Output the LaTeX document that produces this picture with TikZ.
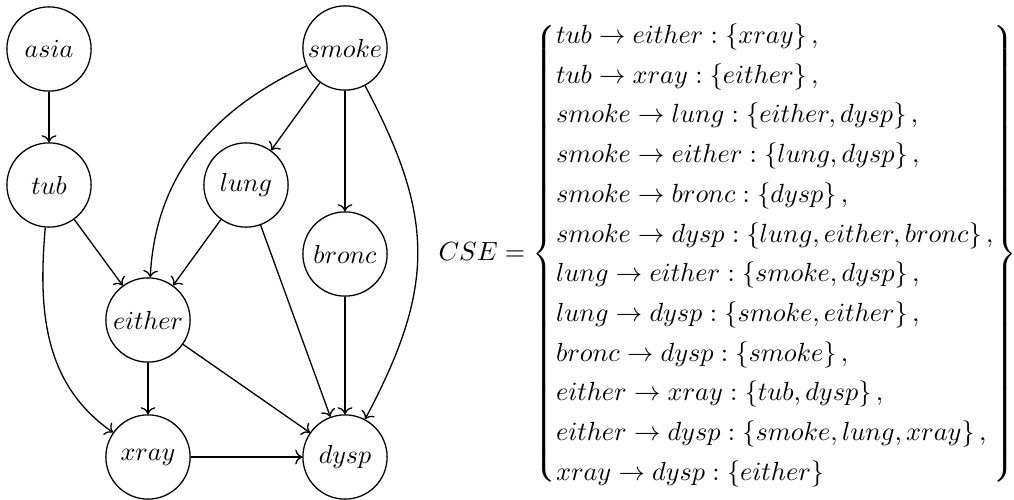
\documentclass[tikz,border=0pt]{standalone}
\usetikzlibrary{arrows.meta}
\begin{document}
\begin{tikzpicture}[x=0.3846pt,y=-0.3846pt,
  var/.style={circle,draw,line width=0.5pt,minimum size=32.4pt,inner sep=0.5pt},
  edge/.style={->,line width=0.5pt}]
\useasboundingbox (0,0) rectangle (1014,500);
\node[var] (asia)   at (49,49)   {$asia$};
\node[var] (smoke)  at (345,48)  {$smoke$};
\node[var] (tub)    at (49,185)  {$tub$};
\node[var] (lung)   at (246,185) {$lung$};
\node[var] (bronc)  at (345,254) {$bronc$};
\node[var] (either) at (148,320) {$either$};
\node[var] (xray)   at (148,457) {$xray$};
\node[var] (dysp)   at (345,457) {$dysp$};

\draw[edge] (asia) -- (tub);
\draw[edge] (smoke) -- (lung);
\draw[edge] (smoke) -- (bronc);
\draw[edge] (smoke) to[out=205,in=87] (either);
\draw[edge] (smoke) to[out=-62,in=62,looseness=1.15] (dysp);
\draw[edge] (tub) -- (either);
\draw[edge] (lung) -- (either);
\draw[edge] (tub) to[out=-95,in=145] (xray);
\draw[edge] (lung) -- (dysp);
\draw[edge] (bronc) -- (dysp);
\draw[edge] (either) -- (xray);
\draw[edge] (either) -- (dysp);
\draw[edge] (xray) -- (dysp);

\node[anchor=west,inner sep=0pt,scale=1.01] (cse) at (438,254) {\renewcommand\arraystretch{1.26}\delimitershortfall=9pt\delimiterfactor=800 $CSE = \left\{\begin{array}{@{}l@{}}
tub \to either : \left\{xray\right\},\\
tub \to xray : \left\{either\right\},\\
smoke \to lung : \left\{either, dysp\right\},\\
smoke \to either : \left\{lung, dysp\right\},\\
smoke \to bronc : \left\{dysp\right\},\\
smoke \to dysp : \left\{lung, either, bronc\right\},\\
lung \to either : \left\{smoke, dysp\right\},\\
lung \to dysp : \left\{smoke, either\right\},\\
bronc \to dysp : \left\{smoke\right\},\\
either \to xray : \left\{tub, dysp\right\},\\
either \to dysp : \left\{smoke, lung, xray\right\},\\
xray \to dysp : \left\{either\right\}
\end{array}\right\}$};
\end{tikzpicture}
\end{document}
